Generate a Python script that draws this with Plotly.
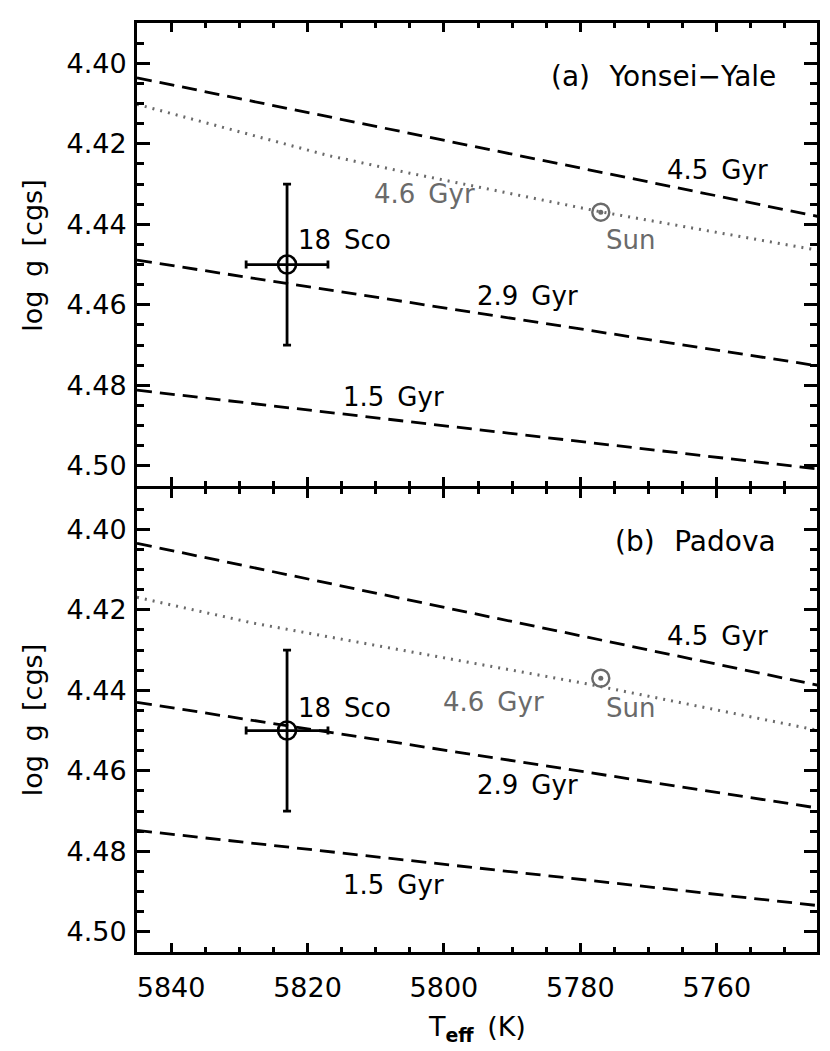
import plotly.graph_objects as go
from plotly.subplots import make_subplots

# ---------------- data ----------------
# Panel (a) Yonsei-Yale isochrones
yy_teff = [5845, 5745]
yy_45 = [4.4036, 4.4381]
yy_29 = [4.4489, 4.4752]
yy_15 = [4.4812, 4.5008]
yy_46_teff = [5845, 5817, 5805, 5777, 5745]
yy_46 = [4.4102, 4.4229, 4.4273, 4.4369, 4.4465]

# Panel (b) Padova isochrones
pd_teff = [5845, 5745]
pd_45 = [4.4035, 4.4388]
pd_29 = [4.4430, 4.4693]
pd_15 = [4.4748, 4.4935]
pd_46_teff = [5845, 5828, 5779, 5745]
pd_46 = [4.4169, 4.4233, 4.4384, 4.4500]

# Stars
sco_teff = [5823]
sco_logg = [4.45]
sco_eteff = [6]
sco_elogg = [0.02]
sun_teff = [5777]
sun_logg = [4.437]

# Labels: (text, teff, logg, color, xanchor, size)
labels_a = [
    ("(a)\u2002\u2009Yonsei\u2212Yale", 5751.0, 4.4033, "black", "right", 28),
    ("4.5\u2002Gyr", 5752.2, 4.4265, "black", "right", 26),
    ("4.6\u2002Gyr", 5802.8, 4.4324, "gray", "center", 26),
    ("Sun", 5772.6, 4.4439, "gray", "center", 26),
    ("18\u2002Sco", 5814.6, 4.4439, "black", "center", 26),
    ("2.9\u2002Gyr", 5787.8, 4.4577, "black", "center", 26),
    ("1.5\u2002Gyr", 5807.4, 4.4829, "black", "center", 26),
]
labels_b = [
    ("(b)\u2002\u2009Padova", 5751.0, 4.4031, "black", "right", 28),
    ("4.5\u2002Gyr", 5752.2, 4.4265, "black", "right", 26),
    ("4.6\u2002Gyr", 5792.8, 4.4430, "gray", "center", 26),
    ("Sun", 5772.6, 4.4444, "gray", "center", 26),
    ("18\u2002Sco", 5814.6, 4.4443, "black", "center", 26),
    ("2.9\u2002Gyr", 5787.8, 4.4634, "black", "center", 26),
    ("1.5\u2002Gyr", 5807.4, 4.4883, "black", "center", 26),
]

x_ticks = [5840, 5820, 5800, 5780, 5760]
y_ticks = [4.40, 4.42, 4.44, 4.46, 4.48, 4.50]

GRAY = "#6a6a6a"
FONT = "DejaVu Sans"
FS_TICK = 27

PLOT_H = 932.0
LW = 3
gap = LW / PLOT_H

fig = make_subplots(rows=2, cols=1, shared_xaxes=True, vertical_spacing=gap)

dash_style = dict(color="black", width=2.8, dash="15px,8px")
dot_style = dict(color=GRAY, width=3, dash="2px,6px")

panels = [
    (1, yy_teff, [yy_45, yy_29, yy_15], yy_46_teff, yy_46, labels_a),
    (2, pd_teff, [pd_45, pd_29, pd_15], pd_46_teff, pd_46, labels_b),
]

for row, teff, dashed, t46, g46, labels in panels:
    for g in dashed:
        fig.add_trace(go.Scatter(x=teff, y=g, mode="lines", line=dash_style,
                                 showlegend=False, hoverinfo="skip"), row=row, col=1)
    fig.add_trace(go.Scatter(x=t46, y=g46, mode="lines", line=dot_style,
                             showlegend=False, hoverinfo="skip"), row=row, col=1)
    # 18 Sco with error bars
    fig.add_trace(go.Scatter(
        x=sco_teff, y=sco_logg, mode="markers",
        marker=dict(symbol="circle-open", size=18, color="black", line=dict(width=2.6)),
        error_x=dict(type="data", array=sco_eteff, color="black", thickness=2.8, width=4),
        error_y=dict(type="data", array=sco_elogg, color="black", thickness=2.8, width=4),
        showlegend=False), row=row, col=1)
    # Sun symbol
    fig.add_trace(go.Scatter(
        x=sun_teff, y=sun_logg, mode="markers",
        marker=dict(symbol="circle-open", size=17, color=GRAY, line=dict(width=2.4)),
        showlegend=False), row=row, col=1)
    fig.add_trace(go.Scatter(
        x=sun_teff, y=sun_logg, mode="markers",
        marker=dict(symbol="circle", size=5, color=GRAY),
        showlegend=False), row=row, col=1)
    xr = "x" if row == 1 else "x2"
    yr = "y" if row == 1 else "y2"
    for text, tx, ty, col, xa, fs in labels:
        fig.add_annotation(x=tx, y=ty, xref=xr, yref=yr, text=text, showarrow=False,
                           xanchor=xa, yanchor="middle",
                           font=dict(family=FONT, size=fs, color=GRAY if col == "gray" else "black"))

axis_common = dict(showline=True, linewidth=LW, linecolor="black", mirror="allticks",
                   ticks="inside", tickwidth=2.5, tickcolor="black", showgrid=False,
                   zeroline=False, tickfont=dict(family=FONT, size=FS_TICK, color="black"))

for row in (1, 2):
    fig.update_xaxes(range=[5845, 5745.3], tickvals=x_ticks, ticklen=9,
                     minor=dict(ticks="inside", ticklen=5, dtick=5, tick0=5840,
                                tickwidth=2.5, tickcolor="black", showgrid=False),
                     ticklabelstandoff=10,
                     **axis_common, row=row, col=1)
    fig.update_yaxes(range=[4.505, 4.39], tickvals=y_ticks, tickformat=".2f", ticklen=13,
                     minor=dict(ticks="inside", ticklen=7, dtick=0.005, tick0=4.40,
                                tickwidth=2.5, tickcolor="black", showgrid=False),
                     ticklabelstandoff=2,
                     **axis_common, row=row, col=1)

fig.update_xaxes(showticklabels=False, row=1, col=1)

# axis titles
for yc in (0.75, 0.25):
    fig.add_annotation(x=-0.1537, y=yc, xref="paper", yref="paper", text="log\u2002g\u2002[cgs]",
                       textangle=-90, showarrow=False, xanchor="center", yanchor="middle",
                       font=dict(family=FONT, size=FS_TICK, color="black"))
fig.add_annotation(x=0.5, y=-0.082, xref="paper", yref="paper",
                   text="T<sub><b>eff</b></sub>\u2002(K)",
                   showarrow=False, xanchor="center", yanchor="middle",
                   font=dict(family=FONT, size=FS_TICK, color="black"))

fig.update_layout(width=830, height=1051, margin=dict(l=129, r=21, t=12, b=107),
                  plot_bgcolor="white", paper_bgcolor="white", showlegend=False)

fig.write_html("out.html")
